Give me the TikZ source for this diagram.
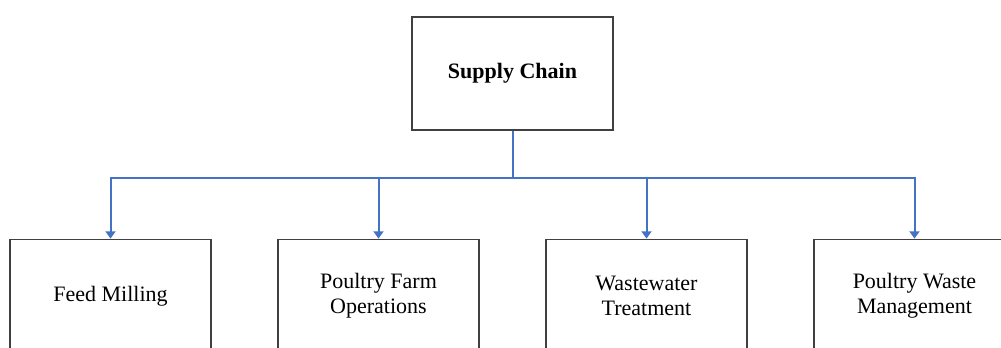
\documentclass[tikz,border=0pt]{standalone}
\usepackage{fontspec}
\setmainfont{Liberation Serif}
\usetikzlibrary{arrows.meta}
\begin{document}
\begin{tikzpicture}[x=0.75pt,y=-0.75pt,
  box/.style={draw=black!75, line width=1.1pt, fill=white, minimum width=150.75pt,
    minimum height=85pt, align=center, inner sep=0pt, font=\fontsize{16.5}{19}\selectfont},
  link/.style={draw={rgb,255:red,68;green,114;blue,196}, line width=1.5pt},
  arr/.style={link, -{Triangle[width=7.5pt,length=5.5pt]}}]
\useasboundingbox[clip] (0,0) rectangle (1001,347);
\fill[white] (0,0) rectangle (1001,347);
\node[box] (top) at (512.5,73.5) {\textbf{Supply Chain}};
\node[box] (fm) at (110.5,296) {Feed Milling};
\node[box] (pf) at (378.5,296) {Poultry Farm\\Operations};
\node[box] (ww) at (646.5,296) {Wastewater\\Treatment};
\node[box] (pw) at (914.5,296) {Poultry Waste\\Management};
\coordinate (bus) at (512.5,178);
\draw[link] (top.south) -- (bus);
\foreach \c in {fm,pf,ww,pw}{
  \draw[arr] (bus) -| (\c.north);
}
\end{tikzpicture}
\end{document}
